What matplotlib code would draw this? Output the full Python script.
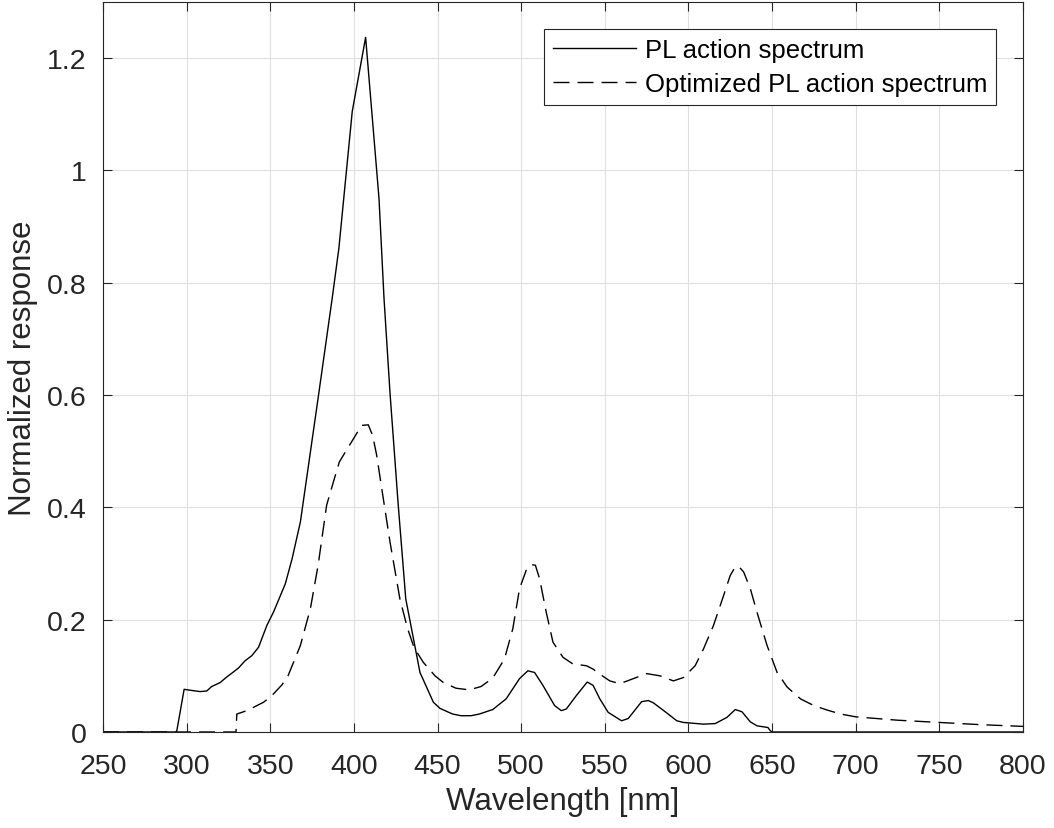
import numpy as np
import matplotlib.pyplot as plt

# PL action spectrum (solid)
wl_pl = [250, 294, 298.5, 303, 308, 312, 315, 320, 324, 328, 331, 335, 339, 343,
         348, 352, 359, 363, 368, 379, 387, 391, 399, 407, 415, 418, 421.6, 426.5,
         431, 439.5, 447.5, 451.5, 459, 464, 470, 475, 483, 491, 499, 504, 508,
         513, 520, 524, 527, 533, 539.5, 543, 547, 552, 560, 564, 572, 576, 579,
         587, 593, 597, 609, 616, 623, 628, 632, 637, 641, 647.5, 649, 650, 800]
pl = [0, 0, 0.076, 0.074, 0.072, 0.073, 0.081, 0.088, 0.098, 0.107, 0.114, 0.127,
      0.136, 0.151, 0.19, 0.214, 0.264, 0.308, 0.374, 0.603, 0.772, 0.861, 1.105,
      1.237, 0.95, 0.772, 0.603, 0.404, 0.237, 0.106, 0.053, 0.042, 0.032, 0.029,
      0.029, 0.032, 0.04, 0.059, 0.095, 0.109, 0.106, 0.083, 0.047, 0.038, 0.041,
      0.065, 0.089, 0.083, 0.059, 0.035, 0.02, 0.024, 0.054, 0.056, 0.052, 0.034,
      0.02, 0.017, 0.014, 0.015, 0.026, 0.04, 0.036, 0.018, 0.011, 0.008, 0.002,
      0, 0]

# Optimized PL action spectrum (dashed)
wl_opt = [250, 329.5, 330, 336, 346, 351, 357, 360.6, 368, 374, 378.6, 383.7,
          387.7, 391.3, 395.6, 399.7, 404.6, 408.6, 411.2, 413.6, 417.6, 421.6,
          427.5, 432, 436, 441.5, 448.5, 453.5, 461, 469, 476, 483, 490, 495, 499,
          503, 506, 508.5, 511, 515, 519, 525, 531, 539, 543, 547, 553, 559, 567,
          575, 583, 591, 597, 604, 609, 615, 621, 625, 628, 630, 633, 637, 641,
          647, 653, 659, 667, 675, 683, 691, 700, 725, 750, 775, 800]
opt = [0, 0, 0.032, 0.038, 0.053, 0.065, 0.084, 0.1, 0.154, 0.22, 0.297, 0.404,
       0.445, 0.481, 0.502, 0.522, 0.546, 0.547, 0.528, 0.493, 0.415, 0.338,
       0.237, 0.185, 0.15, 0.124, 0.1, 0.088, 0.078, 0.075, 0.081, 0.096, 0.13,
       0.184, 0.255, 0.288, 0.298, 0.297, 0.273, 0.213, 0.16, 0.133, 0.121, 0.118,
       0.112, 0.103, 0.091, 0.086, 0.095, 0.104, 0.1, 0.091, 0.097, 0.118, 0.148,
       0.19, 0.243, 0.279, 0.294, 0.295, 0.285, 0.255, 0.213, 0.154, 0.106, 0.08,
       0.059, 0.047, 0.039, 0.032, 0.027, 0.021, 0.017, 0.013, 0.01]

xticks = np.arange(250, 801, 50)
yticks = [0, 0.2, 0.4, 0.6, 0.8, 1, 1.2]
yticklabels = ["0", "0.2", "0.4", "0.6", "0.8", "1", "1.2"]

plt.rcParams['font.family'] = ['Liberation Sans', 'DejaVu Sans']
ax_col = "#262626"

fig = plt.figure(figsize=(10.54, 8.29), dpi=100)
ax = fig.add_axes([103/1054, 1 - 733/829, 920/1054, 730/829])

ax.plot(wl_pl, pl, color="black", lw=1.0, label="PL action spectrum")
ax.plot(wl_opt, opt, color="black", lw=1.0, linestyle=(0, (11.5, 5.8)),
        label="Optimized PL action spectrum")

ax.set_xlim(250, 800)
ax.set_ylim(0, 1.3)
ax.set_xticks(xticks)
ax.set_yticks(yticks)
ax.set_yticklabels(yticklabels)
ax.grid(True, color="#dfdfdf", lw=0.8)
ax.set_axisbelow(True)
ax.tick_params(direction="in", top=True, right=True, length=6.5, width=0.8,
               colors=ax_col, labelsize=20.5, labelcolor=ax_col)
ax.tick_params(axis="x", pad=15)
ax.tick_params(axis="y", pad=12)
for s in ax.spines.values():
    s.set_color(ax_col)
    s.set_linewidth(0.8)

ax.set_xlabel("Wavelength [nm]", fontsize=22.5, color=ax_col, labelpad=5)
ax.set_ylabel("Normalized response", fontsize=22.5, color=ax_col, labelpad=6)

leg = ax.legend(loc="upper right", bbox_to_anchor=(0.9707, 0.963), fontsize=18.5,
                handlelength=3.2, handletextpad=0.35, borderaxespad=0,
                fancybox=False, framealpha=1, edgecolor=ax_col,
                borderpad=0.35, labelspacing=0.4)
leg.get_frame().set_linewidth(0.8)

fig.savefig("out.png", dpi=100)
